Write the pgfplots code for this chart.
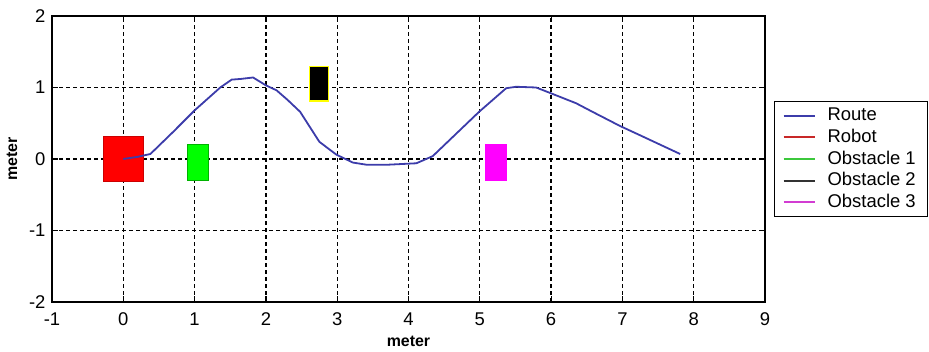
\documentclass[border=0pt]{standalone}
\usepackage{fontspec}
\setmainfont{Liberation Sans}
\usepackage{pgfplots}
\pgfplotsset{compat=1.18}
\definecolor{routeblue}{RGB}{60,60,170}
\definecolor{robotred}{RGB}{200,40,40}
\definecolor{obsgreen}{RGB}{60,200,60}
\definecolor{obsgray}{RGB}{50,50,50}
\definecolor{obsmag}{RGB}{210,60,210}
\definecolor{pred}{RGB}{255,0,0}
\definecolor{pgreen}{RGB}{0,255,0}
\definecolor{pmag}{RGB}{255,0,255}
\definecolor{pyellow}{RGB}{255,255,0}
\begin{document}
\begin{tikzpicture}
\begin{axis}[
  name=ax,
  scale only axis,
  width=713bp, height=286bp,
  xmin=-1, xmax=9, ymin=-2, ymax=2,
  xtick={-1,0,...,9}, ytick={-2,-1,0,1,2},
  /pgf/number format/assume math mode=true,
  tick label style={font=\fontsize{18.5}{18.5}\selectfont},
  xticklabel style={yshift=-7bp},
  yticklabel style={xshift=-3bp},
  xlabel={\bfseries meter}, ylabel={\bfseries meter},
  label style={font=\fontsize{16}{16}\selectfont},
  xlabel style={yshift=-4bp},
  ylabel style={yshift=5bp},
  axis line style={line width=1.3bp},
  tick style={black, line width=1.2bp},
  major tick length=6bp,
  tick align=inside,
  grid=major,
  major grid style={black, line width=1.3bp, dash pattern=on 4bp off 3bp},
  legend style={at={(1,0.5)}, anchor=west, xshift=9bp, draw=black, line width=1.3bp,
    font=\fontsize{18.5}{21}\selectfont, row sep=0bp, inner xsep=8bp, inner ysep=3bp,
    nodes={text height=13.5bp, text depth=3bp, inner ysep=2.6bp, inner xsep=4bp},
    /tikz/every odd column/.append style={column sep=8bp}},
  legend cell align=left,
  legend image code/.code={\draw[#1, line width=2bp] (0bp,0bp) -- (31bp,0bp);},
  clip=true,
]
% robot and obstacles (filled patches)
\addplot[forget plot, fill=pred, draw=red!80!black, line width=0.8bp] coordinates {(-0.28,-0.32) (0.28,-0.32) (0.28,0.32) (-0.28,0.32)} -- cycle;
\addplot[forget plot, fill=pgreen, draw=green!70!black, line width=0.8bp] coordinates {(0.9,-0.3) (1.2,-0.3) (1.2,0.2) (0.9,0.2)} -- cycle;
\addplot[forget plot, fill=black, draw=pyellow, line width=1.3bp] coordinates {(2.61,0.81) (2.88,0.81) (2.88,1.29) (2.61,1.29)} -- cycle;
\addplot[forget plot, fill=pmag, draw=pmag, line width=0.8bp] coordinates {(5.08,-0.3) (5.37,-0.3) (5.37,0.2) (5.08,0.2)} -- cycle;
% route
\addplot[routeblue, line width=1.8bp] coordinates {
(0,0) (0.2,0.03) (0.38,0.07) (0.7,0.38) (1.0,0.68) (1.36,1.0) (1.52,1.11)
(1.65,1.12) (1.82,1.14) (2.0,1.03) (2.15,0.96) (2.3,0.83) (2.48,0.66) (2.75,0.24)
(2.99,0.06) (3.22,-0.05) (3.41,-0.08) (3.71,-0.08) (4.11,-0.06) (4.34,0.04)
(4.99,0.66) (5.37,0.99) (5.51,1.01) (5.79,1.0) (5.97,0.93) (6.35,0.78)
(6.58,0.66) (6.97,0.46) (7.23,0.34) (7.81,0.07)};
\addlegendentry{Route}
\addlegendimage{robotred}
\addlegendentry{Robot}
\addlegendimage{obsgreen}
\addlegendentry{Obstacle 1}
\addlegendimage{obsgray}
\addlegendentry{Obstacle 2}
\addlegendimage{obsmag}
\addlegendentry{Obstacle 3}
\end{axis}
\path (ax.south west) ++(-52bp,-50bp) coordinate (bl);
\path (ax.north west) ++(877bp,16bp) coordinate (tr);
\path[draw=none] (bl) rectangle (tr);
\end{tikzpicture}
\end{document}
